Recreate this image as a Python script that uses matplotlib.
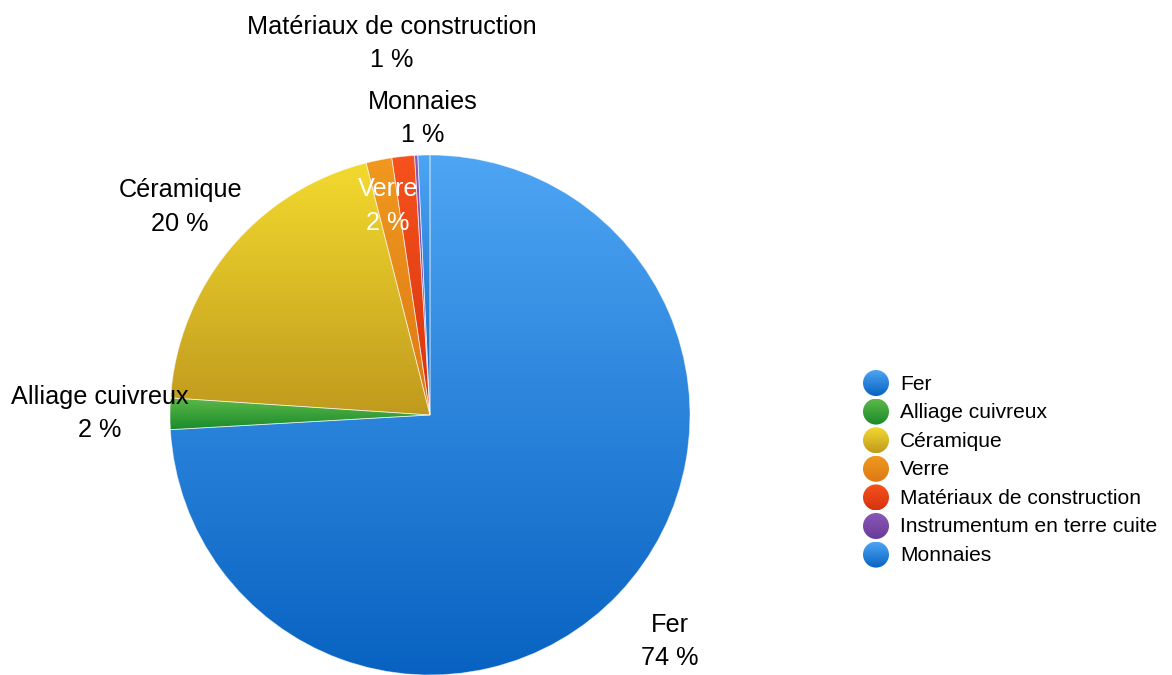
import numpy as np
import matplotlib
matplotlib.use('Agg')
import matplotlib.pyplot as plt
from matplotlib.patches import Circle
from matplotlib.colors import to_rgb

plt.rcParams['font.family'] = ['Liberation Sans', 'DejaVu Sans']

categories = ['Fer', 'Alliage cuivreux', 'Céramique', 'Verre',
              'Matériaux de construction', 'Instrumentum en terre cuite', 'Monnaies']
shares = [74.1, 1.95, 20.0, 1.6, 1.4, 0.2, 0.75]

top_colors = ['#4ea5f4', '#5cb848', '#f3da2e', '#f0981f', '#f6521d', '#8b57b8', '#4ea5f4']
bottom_colors = ['#0862c1', '#198b2b', '#c09a1e', '#dc7914', '#d63310', '#683c98', '#0862c1']

# how far out each slice label sits, in pie radii
label_dist = [1.27, 1.27, 1.25, 0.82, 1.435, 1.3, 1.14]
label_color = ['black', 'black', 'black', 'white', 'black', 'black', 'black']

W, H = 1172, 675
cx, cy, R = 430, 260, 260


def gradient_fill(ax, patch, top, bottom, x0, x1, y0, y1, z):
    t = np.linspace(0, 1, 256)[:, None]
    c = (1 - t) * np.array(to_rgb(top)) + t * np.array(to_rgb(bottom))
    im = ax.imshow(c[:, None, :], extent=(x0, x1, y0, y1), origin='upper',
                   aspect='auto', interpolation='bilinear', zorder=z)
    im.set_clip_path(patch)


fig = plt.figure(figsize=(W / 100, H / 100), dpi=100)
ax = fig.add_axes([0, 0, 1, 1])

wedges, _ = ax.pie(shares, center=(cx, cy), radius=R, startangle=90,
                   counterclock=False,
                   wedgeprops=dict(edgecolor=(1, 1, 1, 0.55), linewidth=0.6))

for i, w in enumerate(wedges):
    th = np.deg2rad(np.linspace(w.theta1, w.theta2, 200))
    ys = np.concatenate([cy + R * np.sin(th), [cy]])
    w.set_facecolor('none')
    w.set_zorder(2)
    gradient_fill(ax, w, top_colors[i], bottom_colors[i],
                  cx - R, cx + R, ys.min(), ys.max(), 1)
    if shares[i] < 0.5:
        continue
    mid = np.deg2rad((w.theta1 + w.theta2) / 2)
    r = R * label_dist[i]
    ax.text(cx + r * np.cos(mid), cy + r * np.sin(mid),
            f"{categories[i]}\n{round(shares[i])} %",
            ha='center', va='center', fontsize=18.2, linespacing=1.48,
            color=label_color[i], zorder=3)

# legend with gradient dots
lx, ly0, step, lr = 876, H - 383, 28.6, 13
for i, cat in enumerate(categories):
    y = ly0 - i * step
    dot = Circle((lx, y), lr, facecolor='none', edgecolor='none')
    ax.add_patch(dot)
    gradient_fill(ax, dot, top_colors[i], bottom_colors[i],
                  lx - lr, lx + lr, y - lr, y + lr, 1)
    ax.text(lx + 24, y - 1, cat, ha='left', va='center', fontsize=15.1)

ax.set_xlim(0, W)
ax.set_ylim(0, H)
ax.set_aspect('equal')
ax.axis('off')

fig.savefig('out.png', dpi=100, facecolor='white')
